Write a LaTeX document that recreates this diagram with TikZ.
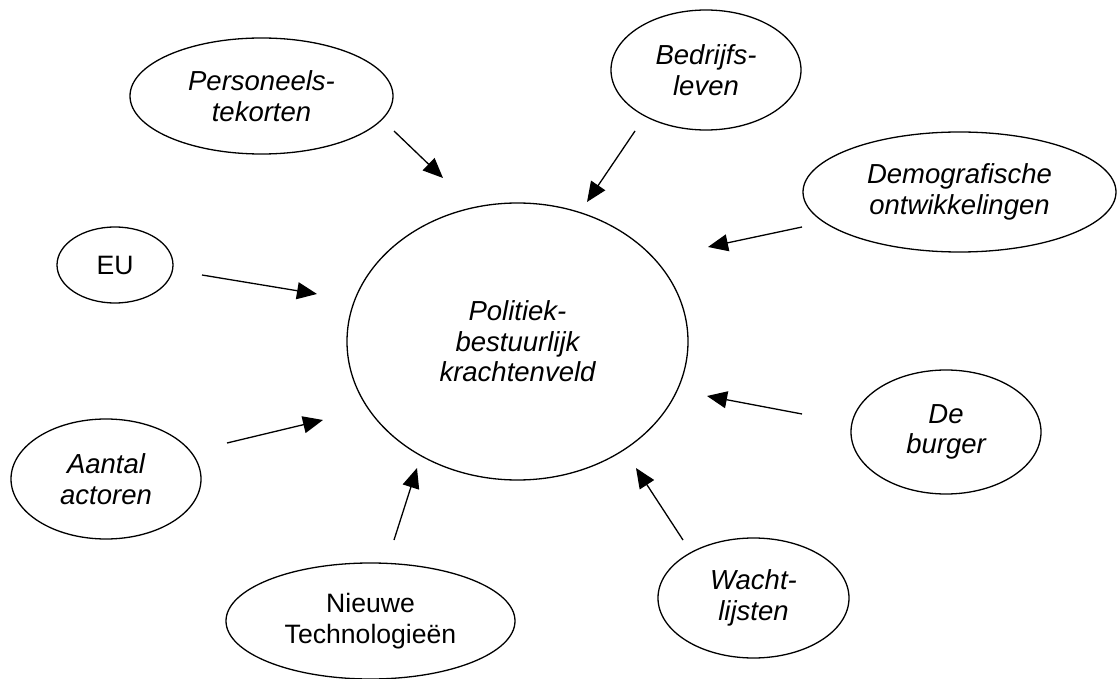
\documentclass[tikz,border=0pt]{standalone}
\usepackage{fontspec}
\setmainfont{Liberation Sans}
\usetikzlibrary{shapes.geometric,arrows.meta}
\tikzset{
  oval/.style={draw=black, line width=1.3pt, ellipse, inner sep=0pt, align=center,
    font=\fontsize{27.5}{30.5}\selectfont\itshape},
  ovalup/.style={oval, font=\fontsize{26.6}{30.5}\selectfont},
  force/.style={draw=black, line width=1.3pt, -{Triangle[length=20pt,width=17pt]}}
}
\begin{document}
\begin{tikzpicture}[x=1pt,y=-1pt]
\useasboundingbox (0,0) rectangle (1117,679);
% central
\node[oval, minimum width=341pt, minimum height=277pt] (pb) at (517.5,341.5) {Politiek-\\bestuurlijk\\krachtenveld};
% surrounding forces
\node[oval, minimum width=263pt, minimum height=116pt] (pt) at (261.5,96) {Personeels-\\tekorten};
\node[oval, minimum width=190pt, minimum height=120pt] (bl) at (706,70) {Bedrijfs-\\leven};
\node[oval, minimum width=313pt, minimum height=120pt] (do) at (959.5,192) {Demografische\\ontwikkelingen};
\node[ovalup, minimum width=116pt, minimum height=76pt] (eu) at (115,265) {EU};
\node[oval, minimum width=190pt, minimum height=124pt] (db) at (946,432) {De\\burger};
\node[oval, minimum width=190pt, minimum height=120pt] (aa) at (106,479) {Aantal\\actoren};
\node[ovalup, minimum width=289pt, minimum height=116pt] (nt) at (370.5,621) {Nieuwe\\Technologieën};
\node[oval, minimum width=191pt, minimum height=120pt] (wl) at (753.5,598) {Wacht-\\lijsten};
% arrow end points
\coordinate (s1) at (394,131); \coordinate (e1) at (443,178);
\coordinate (s2) at (635,131); \coordinate (e2) at (587,202);
\coordinate (s3) at (802,227); \coordinate (e3) at (708,247);
\coordinate (s4) at (202,275); \coordinate (e4) at (317,294);
\coordinate (s5) at (802,414); \coordinate (e5) at (707,396);
\coordinate (s6) at (227,443); \coordinate (e6) at (323,420);
\coordinate (s7) at (394,540); \coordinate (e7) at (417,468);
\coordinate (s8) at (683,540); \coordinate (e8) at (636,468);
\draw[force] (s1) -- (e1);
\draw[force] (s2) -- (e2);
\draw[force] (s3) -- (e3);
\draw[force] (s4) -- (e4);
\draw[force] (s5) -- (e5);
\draw[force] (s6) -- (e6);
\draw[force] (s7) -- (e7);
\draw[force] (s8) -- (e8);
\end{tikzpicture}
\end{document}
